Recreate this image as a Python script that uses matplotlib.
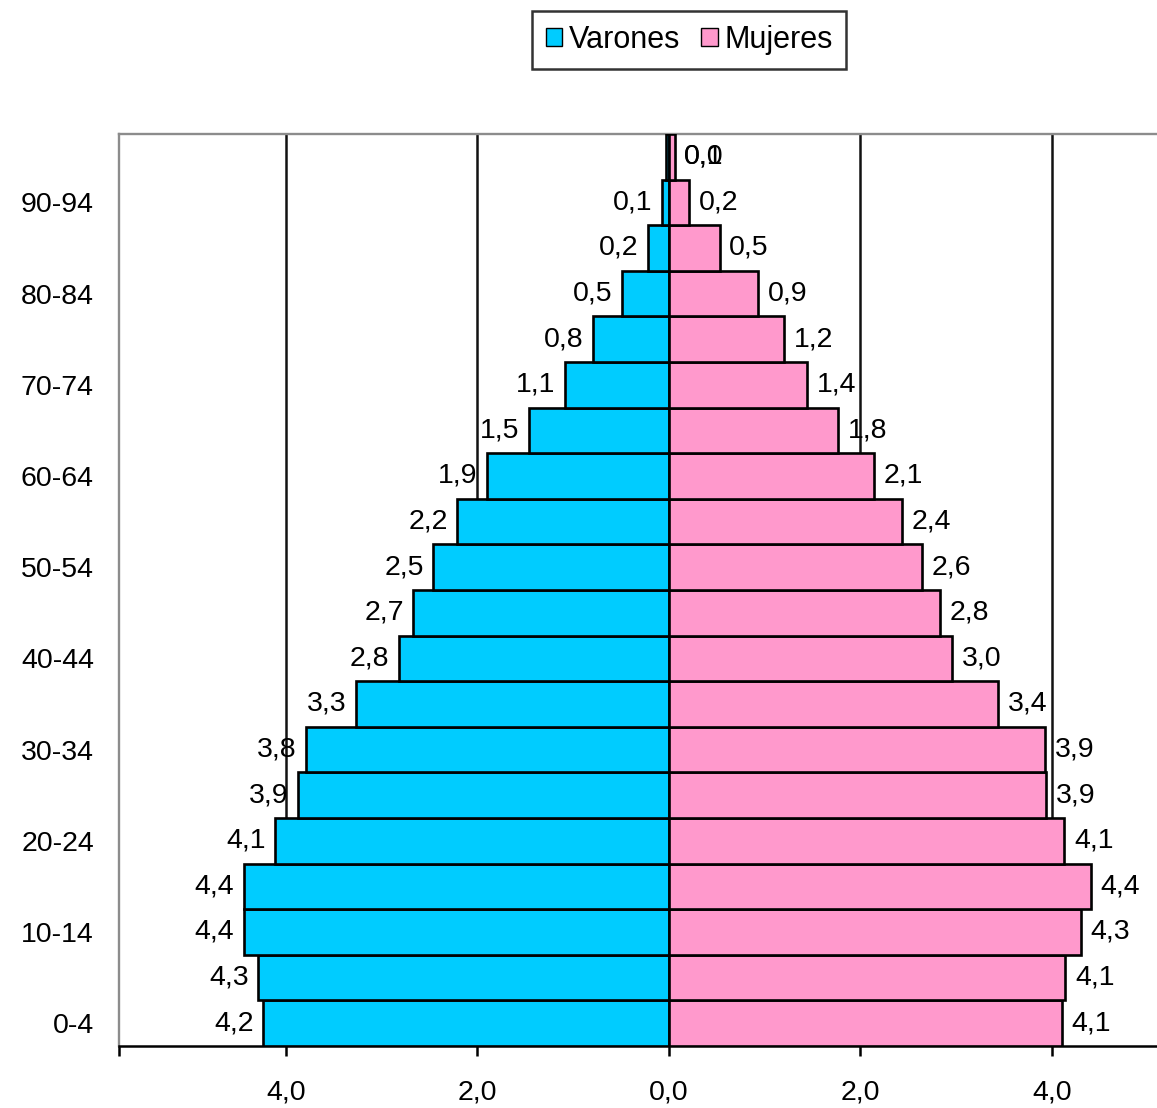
import matplotlib
matplotlib.use("Agg")
import matplotlib.pyplot as plt
from matplotlib.patches import Patch

plt.rcParams['font.family'] = ['Liberation Sans', 'DejaVu Sans']

# Age groups, bottom to top
age_groups = ["0-4", "5-9", "10-14", "15-19", "20-24", "25-29", "30-34", "35-39",
              "40-44", "45-49", "50-54", "55-59", "60-64", "65-69", "70-74",
              "75-79", "80-84", "85-89", "90-94", "95+"]

# Share of total population (%) per age group
varones = [4.24, 4.29, 4.44, 4.44, 4.11, 3.87, 3.79, 3.27, 2.82, 2.67,
           2.46, 2.21, 1.90, 1.46, 1.09, 0.79, 0.49, 0.22, 0.07, 0.03]
mujeres = [4.10, 4.14, 4.30, 4.41, 4.13, 3.94, 3.93, 3.44, 2.96, 2.83,
           2.64, 2.43, 2.14, 1.77, 1.44, 1.20, 0.93, 0.53, 0.21, 0.06]

x_ticks = [-4, -2, 0, 2, 4]

BLUE = "#00CCFF"
PINK = "#FF99CC"
FS = 20.5

fig = plt.figure(figsize=(11.57, 11.08), dpi=100)
ax = fig.add_axes([119 / 1157, 1 - 1046 / 1108, 1 - 119 / 1157, (1046 - 134) / 1108])

y = list(range(len(age_groups)))
ax.barh(y, [-v for v in varones], height=1.0, color=BLUE, edgecolor="black", linewidth=1.9, zorder=3)
ax.barh(y, mujeres, height=1.0, color=PINK, edgecolor="black", linewidth=1.9, zorder=3)

def fmt(v):
    return f"{v:.1f}".replace(".", ",")

off = 0.1
for i, (m, f) in enumerate(zip(varones, mujeres)):
    if m < 0.05:
        ax.text(f + off, i, fmt(m), ha="left", va="center", fontsize=FS, zorder=4)
    else:
        ax.text(-m - off, i, fmt(m), ha="right", va="center", fontsize=FS, zorder=4)
    ax.text(f + off, i, fmt(f), ha="left", va="center", fontsize=FS, zorder=4)

xmin = -(669 - 119) / 95.75
xmax = (1157 - 669) / 95.75
ax.set_xlim(xmin, xmax)
ax.set_ylim(-0.5, len(age_groups) - 0.5)

for g in [-4, -2, 2, 4]:
    ax.axvline(g, color="#111111", linewidth=1.8, zorder=1)

ax.set_xticks([xmin] + x_ticks)
ax.set_xticklabels([""] + [fmt(abs(t)) for t in x_ticks], fontsize=FS)
ax.tick_params(axis="x", direction="out", length=7, width=1.8, pad=17, colors="black")

ax.set_yticks(y[::2])
ax.set_yticklabels(age_groups[::2], fontsize=FS)
ax.tick_params(axis="y", length=0, pad=18)

ax.spines["right"].set_visible(False)
ax.spines["top"].set_color("#8c8c8c")
ax.spines["left"].set_color("#8c8c8c")
ax.spines["top"].set_linewidth(1.7)
ax.spines["left"].set_linewidth(1.7)
ax.spines["bottom"].set_color("black")
ax.spines["bottom"].set_linewidth(1.8)

handles = [Patch(facecolor=BLUE, edgecolor="black", label="Varones"),
           Patch(facecolor=PINK, edgecolor="black", label="Mujeres")]
leg = fig.legend(handles=handles, loc="center", bbox_to_anchor=(689 / 1157, 1 - 40 / 1108),
                 ncol=2, fontsize=22, frameon=True, fancybox=False, handlelength=0.55,
                 handleheight=0.55, handletextpad=0.2, columnspacing=0.7, borderpad=0.45,
                 borderaxespad=0)
leg.get_frame().set_edgecolor("black")
leg.get_frame().set_linewidth(1.8)

fig.savefig("out.png", dpi=100)
